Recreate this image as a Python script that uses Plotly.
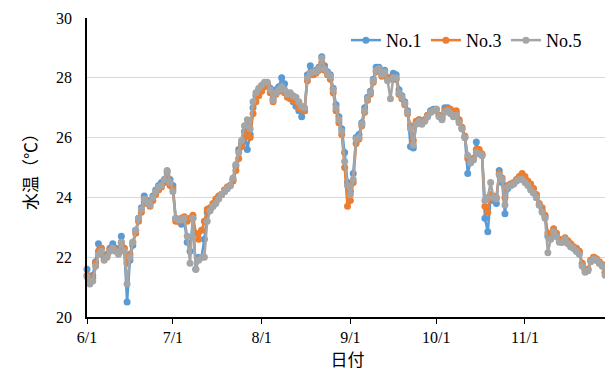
import pandas as pd
import plotly.graph_objects as go

dates = pd.date_range("2019-06-01", "2019-11-30", freq="D")

no5 = [21.35, 21.1, 21.2, 21.7, 22.1, 22.2, 21.9, 22.0, 22.2, 22.3,
       22.2, 22.1, 22.5, 22.2, 21.1, 22.0, 22.5, 22.9, 23.3, 23.6,
       23.95, 23.85, 23.75, 24.0, 24.2, 24.35, 24.4, 24.6, 24.9, 24.5,
       24.2, 23.3, 23.25, 23.25, 23.3, 22.7, 21.8, 23.3, 21.6, 21.9,
       22.0, 22.0, 23.2, 23.55, 23.7, 23.8, 23.95, 24.1, 24.2, 24.3,
       24.4, 24.65, 25.1, 25.5, 25.9, 26.4, 26.6, 26.3, 27.2, 27.5,
       27.65, 27.75, 27.85, 27.85, 27.6, 27.25, 27.5, 27.6, 27.7, 27.6,
       27.45, 27.5, 27.4, 27.35, 27.2, 27.05, 27.0, 28.0, 28.15, 28.2,
       28.2, 28.3, 28.65, 28.3, 28.15, 28.05, 27.6, 27.0, 26.6, 26.2,
       25.2, 24.4, 24.1, 24.6, 25.95, 26.0, 26.45, 26.9, 27.3, 27.5,
       27.9, 28.25, 28.3, 28.1, 28.2, 27.9, 27.3, 28.0, 28.0, 27.5,
       27.35, 27.15, 26.85, 26.3, 25.75, 26.45, 26.55, 26.45, 26.55, 26.7,
       26.85, 26.9, 26.95, 26.7, 26.6, 26.85, 26.9, 26.8, 26.7, 26.75,
       26.5, 26.3, 26.0, 25.4, 25.15, 25.25, 25.5, 25.45, 25.4, 23.9,
       24.0, 24.5, 24.0, 23.95, 24.75, 24.6, 23.75, 24.35, 24.4, 24.45,
       24.55, 24.6, 24.6, 24.5, 24.4, 24.25, 24.15, 24.0, 23.75, 23.5,
       23.3, 22.15, 22.6, 22.85, 22.7, 22.5, 22.5, 22.6, 22.45, 22.35,
       22.3, 22.2, 22.1, 21.7, 21.5, 21.55, 21.85, 21.95, 21.9, 21.8,
       21.7, 21.4, 21.35]

no1 = [21.6, 21.3, 21.4, 21.85, 22.45, 22.3, 22.0, 22.1, 22.3, 22.45,
       22.3, 22.2, 22.7, 22.3, 20.5, 21.9, 22.4, 22.9, 23.3, 23.65,
       24.05, 23.9, 23.8, 24.05, 24.25, 24.4, 24.5, 24.6, 24.85, 24.6,
       24.4, 23.3, 23.2, 23.1, 23.2, 22.5, 22.2, 23.3, 21.6, 22.0,
       22.0, 22.6, 23.5, 23.6, 23.7, 23.85, 24.0, 24.1, 24.2, 24.3,
       24.4, 24.6, 25.05, 25.6, 25.8, 26.2, 25.6, 26.1, 27.0, 27.4,
       27.6, 27.7, 27.8, 27.8, 27.65, 27.3, 27.6, 27.7, 28.0, 27.8,
       27.5, 27.4, 27.2, 27.05, 26.9, 26.7, 26.9, 28.1, 28.4, 28.2,
       28.25, 28.35, 28.7, 28.4, 28.2, 28.1, 27.65, 27.1, 26.7, 26.3,
       25.5, 24.5, 24.2, 24.8, 26.0, 26.1, 26.5, 27.0, 27.35, 27.55,
       27.95, 28.35, 28.35, 28.15, 28.25, 28.0, 28.0, 28.15, 28.1, 27.6,
       27.4, 27.2, 26.9, 25.7, 25.65, 26.5, 26.6, 26.5, 26.6, 26.75,
       26.9, 26.95, 26.95, 26.75, 26.7, 27.0, 27.0, 26.85, 26.75, 26.8,
       26.55, 26.3, 26.0, 24.8, 25.2, 25.3, 25.85, 25.5, 25.4, 23.3,
       22.85, 24.0, 23.9, 23.8, 24.9, 24.5, 23.45, 24.3, 24.4, 24.45,
       24.55, 24.65, 24.75, 24.6, 24.45, 24.3, 24.15, 24.0, 23.75, 23.55,
       23.35, 22.7, 22.7, 22.85, 22.7, 22.55, 22.5, 22.6, 22.5, 22.35,
       22.3, 22.2, 22.15, 21.75, 21.55, 21.6, 21.9, 22.0, 21.9, 21.8,
       21.75, 21.5, 21.4]

no3 = [21.4, 21.2, 21.3, 21.8, 22.2, 22.3, 21.95, 22.05, 22.25, 22.3,
       22.25, 22.2, 22.5, 22.3, 21.8, 22.1, 22.5, 22.8, 23.2, 23.5,
       23.85, 23.8, 23.7, 23.9, 24.1, 24.25, 24.35, 24.5, 24.7, 24.4,
       24.3, 23.2, 23.2, 23.3, 23.35, 23.2, 23.3, 23.4, 22.8, 22.6,
       22.9, 23.2, 23.6, 23.65, 23.8, 23.95, 24.05, 24.1, 24.25, 24.35,
       24.4, 24.55, 24.9, 25.3, 25.7, 26.0, 26.4, 26.0, 26.8, 27.2,
       27.4, 27.55, 27.7, 27.75, 27.5, 27.2, 27.45, 27.55, 27.6, 27.5,
       27.35, 27.3, 27.25, 27.2, 27.0, 26.95, 26.9, 27.9, 28.1, 28.1,
       28.15, 28.25, 28.5, 28.25, 28.1, 27.95, 27.5, 26.9, 26.5, 26.1,
       25.0, 23.7, 23.9, 24.5, 25.8, 25.95, 26.4, 26.85, 27.25, 27.45,
       27.85, 28.2, 28.25, 28.05, 28.15, 27.95, 28.0, 27.95, 27.95, 27.45,
       27.3, 27.1, 26.8, 26.4, 25.9, 26.55, 26.6, 26.5, 26.6, 26.75,
       26.85, 26.9, 26.95, 26.75, 26.65, 26.9, 26.95, 26.95, 26.8, 26.9,
       26.6, 26.35, 26.05, 25.3, 25.2, 25.3, 25.6, 25.6, 25.45, 23.7,
       23.5, 24.1, 24.05, 24.0, 24.8, 24.65, 24.0, 24.4, 24.45, 24.5,
       24.6, 24.7, 24.8, 24.7, 24.55, 24.45, 24.3, 24.1, 23.8, 23.65,
       23.4, 22.8, 22.8, 22.95, 22.8, 22.6, 22.55, 22.65, 22.55, 22.45,
       22.35, 22.3, 22.2, 21.8, 21.6, 21.6, 21.9, 22.0, 21.95, 21.85,
       21.75, 21.5, 21.45]

series = [("No.1", no1, "#5B9BD5"), ("No.3", no3, "#ED7D31"), ("No.5", no5, "#A5A5A5")]

tick_vals = ["2019-06-01", "2019-07-01", "2019-08-01", "2019-09-01", "2019-10-01", "2019-11-01"]
tick_text = ["6/1", "7/1", "8/1", "9/1", "10/1", "11/1"]

fig = go.Figure()
for name, vals, col in series:
    fig.add_trace(go.Scatter(
        x=dates, y=vals, name=name, mode="lines+markers",
        line=dict(color=col, width=2.5),
        marker=dict(color=col, size=7),
        cliponaxis=False,
    ))

serif = "Liberation Serif"
jp = "Noto Sans CJK JP"

fig.update_layout(
    width=605, height=368,
    margin=dict(l=79, r=5, t=10, b=59, autoexpand=False),
    paper_bgcolor="white", plot_bgcolor="white",
    showlegend=True,
    legend=dict(orientation="h", x=0.497, xanchor="left", y=0.925, yanchor="middle",
                font=dict(family=serif, size=18, color="#000"),
                bgcolor="rgba(0,0,0,0)", itemwidth=30, tracegroupgap=0,
                entrywidth=35, entrywidthmode="pixels"),
    xaxis=dict(type="date", range=["2019-06-01", "2019-11-30"],
               tickvals=tick_vals, ticktext=tick_text, automargin=False,
               ticks="outside", ticklen=5, tickcolor="#000", tickwidth=1,
               showline=True, linecolor="#000", linewidth=1.5,
               showgrid=False, zeroline=False,
               tickfont=dict(family=serif, size=16, color="#000"),
               title=dict(text="日付", font=dict(family=jp, size=17, color="#000"), standoff=5)),
    yaxis=dict(range=[20, 30], dtick=2, tick0=20, automargin=False,
               showline=True, linecolor="#000", linewidth=1.5,
               showgrid=True, gridcolor="#D9D9D9", gridwidth=1,
               zeroline=False, ticks="", ticklabelstandoff=10,
               tickfont=dict(family=serif, size=16, color="#000"),
               title=dict(text="水温（℃）", font=dict(family=jp, size=17, color="#000"), standoff=14)),
)
fig.add_shape(type="line", xref="paper", yref="paper", x0=1, x1=1, y0=0, y1=1,
              line=dict(color="#D9D9D9", width=1))

fig.write_html("out.html")
